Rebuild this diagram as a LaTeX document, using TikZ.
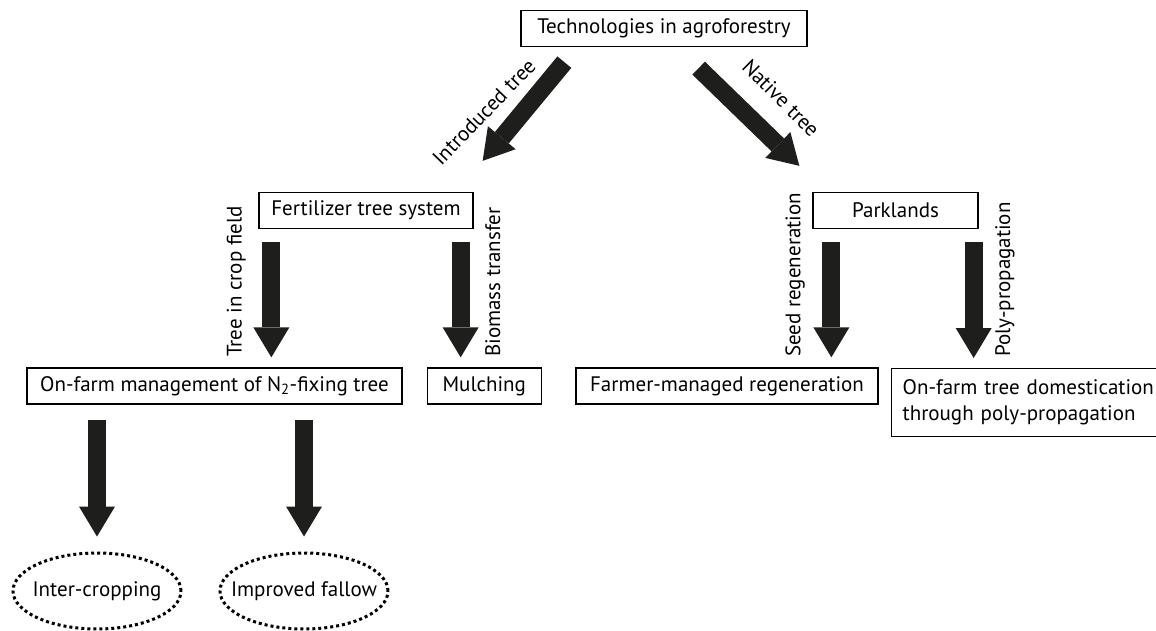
\documentclass[tikz,border=0pt]{standalone}
\usepackage{fontspec}
\setmainfont{PT Sans}
\usetikzlibrary{arrows.meta,positioning,shapes.geometric,calc}
\definecolor{arrowblack}{RGB}{30,30,28}

\begin{document}
\begin{tikzpicture}[x=1pt,y=-1pt,
  box/.style={draw,line width=1.3pt,inner sep=0pt,text centered,
              minimum height=36pt,font=\fontsize{21}{26}\selectfont},
  oval/.style={ellipse,draw,line width=3pt,dash pattern=on 3pt off 3pt,
               minimum width=168pt,minimum height=76pt,inner xsep=-16pt,
               inner ysep=0pt,font=\fontsize{21}{26}\selectfont},
  lbl/.style={inner sep=0pt,font=\fontsize{21}{26}\selectfont},
  bigarrow/.style={-{Triangle[length=30pt,width=36pt,line width=0pt]},
                   line width=18pt,color=arrowblack,
                   shorten <=13pt,shorten >=10pt}
]
\useasboundingbox (0,0) rectangle (1156,631);
\node[box,minimum width=286pt] (tech) at (664,28.5) {Technologies in agroforestry};
\node[box,minimum width=214pt] (fert) at (366,210.5) {Fertilizer tree system};
\node[box,minimum width=165pt] (park) at (895.5,210.5) {Parklands};
\node[box,minimum width=375pt] (onfarm) at (214.5,386) {On-farm management of N\textsubscript{2}-fixing tree};
\node[box,minimum width=114pt,right=24pt of onfarm] (mulch) {Mulching};
\node[box,minimum width=302pt] (fmnr) at (727,386) {Farmer-managed regeneration};
\node[box,anchor=north west,align=left,text width=252pt,inner xsep=11pt,
      minimum height=68pt] (domest) at (891,368)
  {On-farm tree domestication\\through poly-propagation};
\node[oval] (inter) at (97,591) {Inter-cropping};
\node[oval] (fallow) at (304,591) {Improved fallow};

% arrow labels
\node[lbl,rotate=46] (intro) at (484,112) {Introduced tree};
\node[lbl,rotate=-45] (native) at (781,98) {Native tree};
\node[lbl,rotate=90,anchor=south west] (crop) at (246,357) {Tree in crop field};
\node[lbl,rotate=90,anchor=north west] (biomass) at (485,357) {Biomass transfer};
\node[lbl,rotate=90,anchor=south west] (seed) at (805,357) {Seed regeneration};
\node[lbl,rotate=90,anchor=north west] (poly) at (995,357) {Poly-propagation};

\coordinate (fa) at ($(fert.south west)+(13,0)$);
\coordinate (fb) at ($(fert.south east)+(-13,0)$);
\coordinate (pa) at ($(park.south west)+(19,0)$);
\coordinate (pb) at ($(park.south east)+(-5,0)$);

\draw[bigarrow,shorten <=0pt,shorten >=0pt] ($(tech.south west)+(44,15)$)--($(fert.north east)+(9,-31)$);
\draw[bigarrow,shorten <=0pt,shorten >=0pt] ($(tech.south east)+(-109,21)$)--($(park.north west)+(-13,-26)$);
\draw[bigarrow] (fa)--(fa |- onfarm.north);
\draw[bigarrow] (fb)--(fb |- mulch.north);
\draw[bigarrow] (pa)--(pa |- fmnr.north);
\draw[bigarrow] (pb)--(pb |- domest.north);
\draw[bigarrow,shorten <=15pt,shorten >=15pt] (onfarm.south -| inter.north)--(inter.north);
\draw[bigarrow,shorten <=15pt,shorten >=15pt] (onfarm.south -| fallow.north)--(fallow.north);
\end{tikzpicture}
\end{document}
